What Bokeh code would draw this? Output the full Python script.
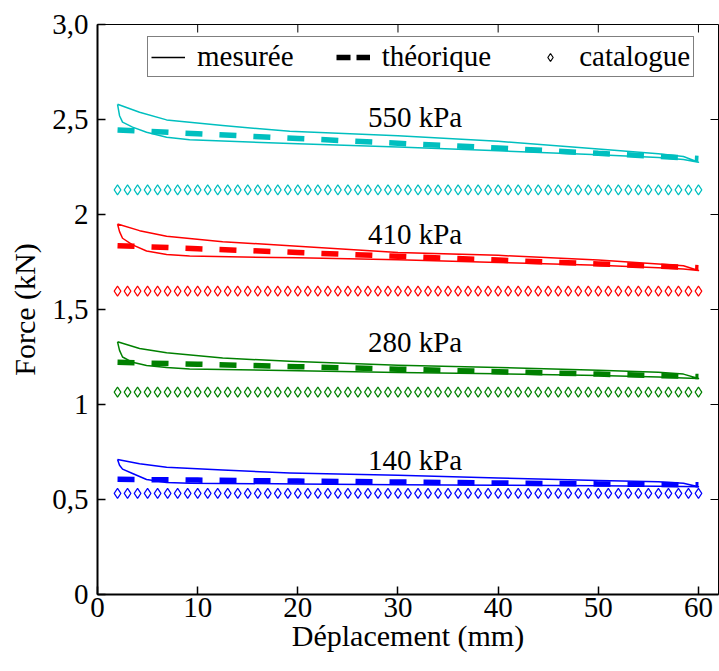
import math
from bokeh.plotting import figure
from bokeh.models import Range1d, FixedTicker, Legend, LegendItem
from bokeh.embed import file_html
from bokeh.resources import INLINE
from bokeh.core.properties import value

# ---------------- data ----------------
pressures = ["140 kPa", "280 kPa", "410 kPa", "550 kPa"]
colors = ["#0000FF", "#008000", "#FF0000", "#00BFBF"]

# measured hysteresis loop: upper branch (outgoing) and lower branch (return)
x_up = [2.0, 4.2, 6.9, 12.5, 19.2, 30, 40, 50, 56, 58.5, 60]
x_lo = [60, 58.5, 56, 50, 40, 30, 20, 9.2, 6.9, 4.9, 3.5, 2.5, 2.2, 2.0]

up_140 = [0.71, 0.688, 0.67, 0.655, 0.64, 0.627, 0.613, 0.60, 0.593, 0.586, 0.567]
lo_140 = [0.567, 0.569, 0.57, 0.572, 0.575, 0.578, 0.582, 0.586, 0.59, 0.605, 0.637, 0.66, 0.68, 0.71]
up_280 = [1.33, 1.295, 1.272, 1.245, 1.227, 1.207, 1.195, 1.18, 1.17, 1.16, 1.137]
lo_280 = [1.137, 1.14, 1.145, 1.152, 1.162, 1.168, 1.178, 1.187, 1.195, 1.205, 1.222, 1.25, 1.285, 1.33]
up_410 = [1.95, 1.915, 1.885, 1.857, 1.835, 1.80, 1.785, 1.76, 1.74, 1.73, 1.705]
lo_410 = [1.705, 1.713, 1.72, 1.733, 1.748, 1.762, 1.772, 1.781, 1.79, 1.808, 1.84, 1.875, 1.91, 1.95]
up_550 = [2.58, 2.538, 2.498, 2.468, 2.438, 2.415, 2.385, 2.345, 2.32, 2.305, 2.275]
lo_550 = [2.275, 2.29, 2.30, 2.315, 2.335, 2.355, 2.372, 2.393, 2.407, 2.433, 2.46, 2.486, 2.52, 2.58]

# theoretical
x_th = [2, 10, 20, 30, 40, 50, 60]
th_140 = [0.606, 0.602, 0.597, 0.592, 0.587, 0.582, 0.577]
th_280 = [1.222, 1.212, 1.199, 1.186, 1.173, 1.16, 1.147]
th_410 = [1.836, 1.82, 1.80, 1.78, 1.76, 1.74, 1.72]
th_550 = [2.445, 2.425, 2.40, 2.375, 2.35, 2.322, 2.295]

# catalogue
x_cat = list(range(2, 61))
cat_force = [0.532, 1.065, 1.597, 2.13]

# pressure labels
label_x = [31.7, 31.7, 31.7, 31.7]
label_y = [0.71, 1.33, 1.90, 2.515]

x_ticks = [0, 10, 20, 30, 40, 50, 60]
y_ticks = [0, 0.5, 1, 1.5, 2, 2.5, 3]
y_tick_labels = ["0", "0,5", "1", "1,5", "2", "2,5", "3,0"]
x_min, x_max = 0, 62
y_min, y_max = 0, 3

FONT = "Liberation Serif"
FS = "29px"

# ---------------- figure ----------------
p = figure(width=719, height=671, x_range=Range1d(x_min, x_max), y_range=Range1d(y_min, y_max),
           output_backend="svg", toolbar_location=None,
           min_border_left=97, min_border_right=1, min_border_top=24, min_border_bottom=77)
p.background_fill_color = "white"
p.border_fill_color = "white"
p.outline_line_color = "black"
p.outline_line_width = 1
p.xgrid.visible = False
p.ygrid.visible = False

ups = [up_140, up_280, up_410, up_550]
los = [lo_140, lo_280, lo_410, lo_550]
ths = [th_140, th_280, th_410, th_550]

for i in range(4):
    c = colors[i]
    p.line(x_th, ths[i], line_color=c, line_width=5.5, line_dash="17 17", line_cap="butt")
    p.line(x_up + x_lo, ups[i] + los[i], line_color=c, line_width=1.5, line_join="round")
    p.scatter(x_cat, [cat_force[i]] * len(x_cat), marker="diamond", size=10,
              fill_color="white", line_color=c, line_width=1.2)

p.text(x=label_x, y=label_y, text=pressures, text_font=value(FONT), text_font_size=value(FS),
       text_align="center", text_baseline="middle", text_color="black")

# inward tick marks on top and right edges of the box (half clipped by the frame)
p.scatter(x_ticks, [y_max] * len(x_ticks), marker="dash", size=16, angle=math.pi / 2,
          line_color="black", line_width=1)
p.scatter([x_max] * len(y_ticks), y_ticks, marker="dash", size=16,
          line_color="black", line_width=1)

# axes
for ax in (p.xaxis[0], p.yaxis[0]):
    ax.major_label_text_font = FONT
    ax.major_label_text_font_size = FS
    ax.major_label_text_color = "black"
    ax.axis_label_text_font = FONT
    ax.axis_label_text_font_size = "30px"
    ax.axis_label_text_font_style = "normal"
    ax.axis_label_text_color = "black"
    ax.major_tick_in = 8
    ax.major_tick_out = 0
    ax.minor_tick_in = 0
    ax.minor_tick_out = 0
    ax.axis_line_width = 2
    ax.major_tick_line_width = 1.5

p.xaxis[0].ticker = FixedTicker(ticks=x_ticks)
p.yaxis[0].ticker = FixedTicker(ticks=y_ticks)
p.yaxis[0].major_label_overrides = {t: s for t, s in zip(y_ticks, y_tick_labels)}
p.xaxis[0].axis_label = "Déplacement (mm)"
p.yaxis[0].axis_label = "Force (kN)"
p.xaxis[0].major_label_standoff = 3
p.yaxis[0].major_label_standoff = 9
p.xaxis[0].axis_label_standoff = -1
p.yaxis[0].axis_label_standoff = 8

# legend (black proxy glyphs, data not plotted)
nan = float("nan")
r_meas = p.line([nan, nan], [nan, nan], line_color="black", line_width=1.5)
r_th = p.line([nan, nan], [nan, nan], line_color="black", line_width=5.5, line_dash="14 6",
              line_cap="butt")
r_cat = p.scatter([nan], [nan], marker="diamond", size=10, fill_color="white",
                  line_color="black", line_width=1.2)
leg = Legend(items=[LegendItem(label="mesurée", renderers=[r_meas]),
                    LegendItem(label="théorique", renderers=[r_th]),
                    LegendItem(label="catalogue", renderers=[r_cat])],
             orientation="horizontal", location=(50, 517),
             label_text_font=FONT, label_text_font_size=FS, label_text_color="black",
             glyph_width=34, label_standoff=12, spacing=42, padding=3, margin=0,
             border_line_color="black", border_line_width=1,
             background_fill_color="white", background_fill_alpha=1)
p.add_layout(leg)

open("out.html", "w").write(file_html(p, INLINE))
